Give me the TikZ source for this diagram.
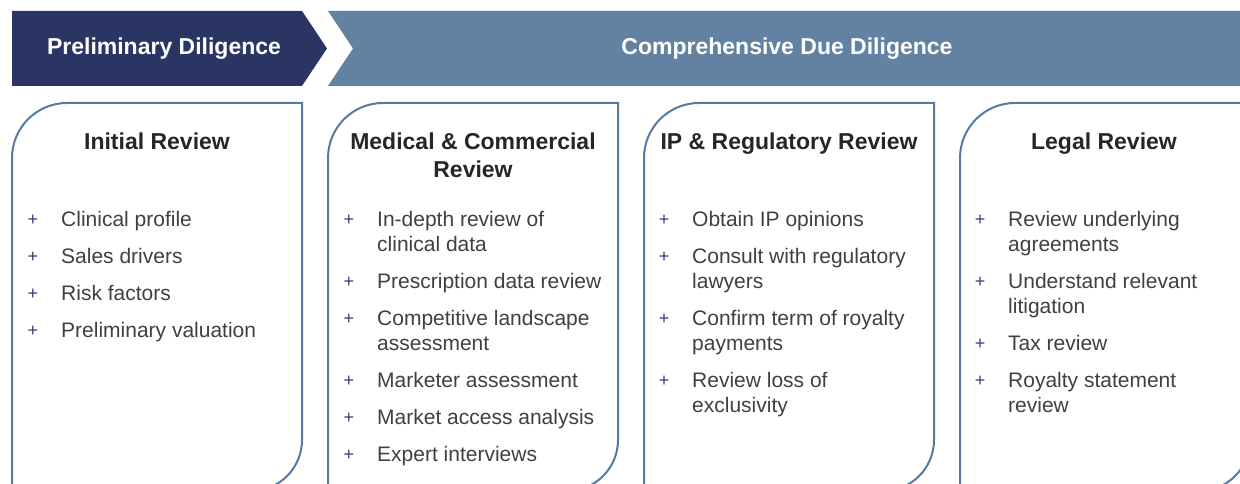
\documentclass[tikz,border=0pt]{standalone}
\usepackage{fontspec}
\setmainfont{Liberation Sans}
\definecolor{navy}{RGB}{43,53,99}
\definecolor{steel}{RGB}{99,130,161}
\definecolor{boxline}{RGB}{86,122,162}
\definecolor{titlegray}{RGB}{38,38,38}
\definecolor{itemgray}{RGB}{64,64,64}
\definecolor{plusblue}{RGB}{50,62,120}
\tikzset{
  hdrtext/.style={text=white, font=\fontsize{23}{28}\selectfont\bfseries, inner sep=0pt, anchor=base},
  boxtitle/.style={text=titlegray, font=\fontsize{23}{28}\selectfont\bfseries, inner sep=0pt, anchor=base, align=center},
  itemtext/.style={text=itemgray, font=\fontsize{21}{25}\selectfont, inner sep=0pt, anchor=base west, align=left},
  plusmark/.style={text=plusblue, font=\fontsize{18}{18}\selectfont, inner sep=0pt, anchor=center},
  reviewbox/.style={draw=boxline, line width=2pt, fill=white}
}
\begin{document}
\begin{tikzpicture}[x=1pt,y=1pt]
\useasboundingbox (0,0) rectangle (1240,484);
\clip (0,0) rectangle (1240,484);
% header chevrons
\fill[navy] (12,473) -- (302,473) -- (327,435.5) -- (302,398) -- (12,398) -- cycle;
\fill[steel] (328,473) -- (1250,473) -- (1250,398) -- (328,398) -- (353,435.5) -- cycle;
\node[hdrtext] (hprelim) at (164,429) {Preliminary Diligence};
\node[hdrtext] (hcomp) at (787,429) {Comprehensive Due Diligence};
% boxes
\foreach \L in {12,328,644,960}{
  \draw[reviewbox] (\L,-20) -- (\L,326) arc (180:90:55) -- (\L+290,381) -- (\L+290,44) arc (0:-90:51) -- (\L-5,-7);
}
% titles
\node[boxtitle] (t1) at (157,334) {Initial Review};
\node[boxtitle] (t2) at (473,306) {Medical \& Commercial\\Review};
\node[boxtitle] (t3) at (789,334) {IP \& Regulatory Review};
\node[boxtitle] (t4) at (1104,334) {Legal Review};
% items: first-line centre y (px from top) / extra lines / text
\foreach \y/\n/\t [count=\k] in {220/0/Clinical profile,257/0/Sales drivers,294/0/Risk factors,331/0/Preliminary valuation}{
  \node[plusmark] (pa\k) at (33,484-\y) {+};
  \node[itemtext] (ia\k) at (61,477-\y-25*\n) {\t};
}
\foreach \y/\n/\t [count=\k] in {220/1/{In-depth review of\\clinical data},282/0/Prescription data review,319/1/{Competitive landscape\\assessment},381/0/Marketer assessment,418/0/Market access analysis,455/0/Expert interviews}{
  \node[plusmark] (pb\k) at (349,484-\y) {+};
  \node[itemtext] (ib\k) at (377,477-\y-25*\n) {\t};
}
\foreach \y/\n/\t [count=\k] in {220/0/Obtain IP opinions,257/1/{Consult with regulatory\\lawyers},319/1/{Confirm term of royalty\\payments},381/1/{Review loss of\\exclusivity}}{
  \node[plusmark] (pc\k) at (664,484-\y) {+};
  \node[itemtext] (ic\k) at (692,477-\y-25*\n) {\t};
}
\foreach \y/\n/\t [count=\k] in {220/1/{Review underlying\\agreements},282/1/{Understand relevant\\litigation},344/0/Tax review,381/1/{Royalty statement\\review}}{
  \node[plusmark] (pd\k) at (980,484-\y) {+};
  \node[itemtext] (id\k) at (1008,477-\y-25*\n) {\t};
}
\end{tikzpicture}
\end{document}
